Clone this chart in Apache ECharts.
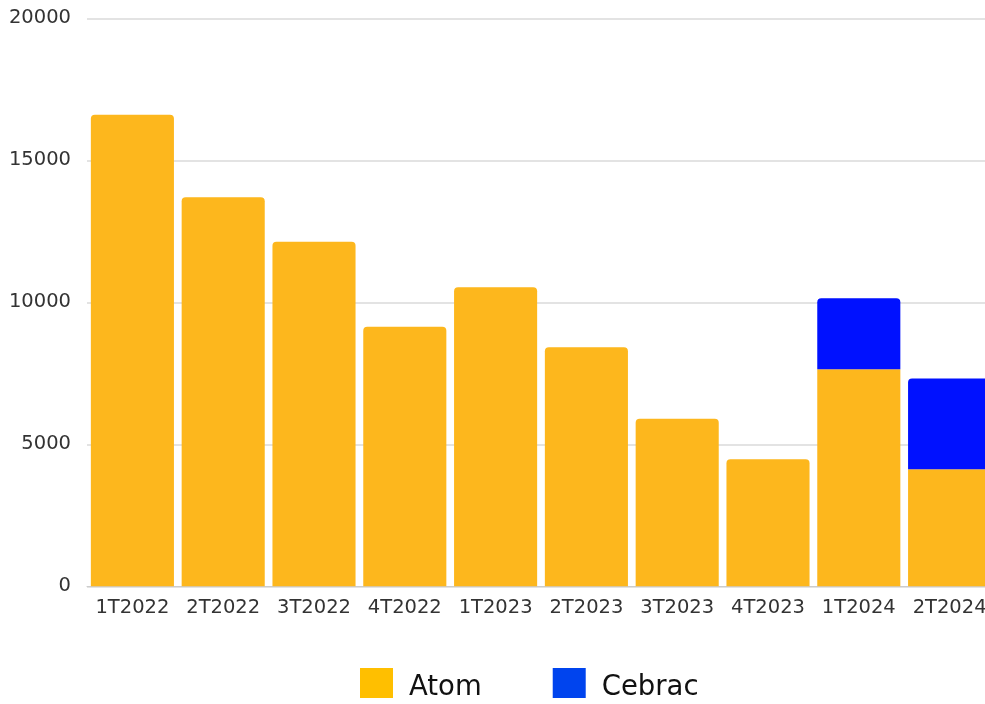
<!DOCTYPE html>
<html><head><meta charset="utf-8">
<script src="https://cdn.jsdelivr.net/npm/echarts@6/dist/echarts.min.js"></script>
<style>html,body{margin:0;padding:0;overflow:hidden;background:#fff;width:985px;height:704px}#c{width:1060px;height:720px}</style>
</head><body><div id="c"></div>
<script>
const categories = ['1T2022','2T2022','3T2022','4T2022','1T2023','2T2023','3T2023','4T2023','1T2024','2T2024'];
const atom = [16600, 13700, 12130, 9140, 10530, 8420, 5900, 4470, 7640, 4120];
const cebrac = [null, null, null, null, null, null, null, null, 2500, 3200];
const yTicks = [0, 5000, 10000, 15000, 20000];

const chart = echarts.init(document.getElementById('c'), null, {renderer:'canvas'});
const atomData = atom.map((v,i)=>({value:v, itemStyle:{borderRadius: cebrac[i]==null ? [4,4,0,0] : 0}}));
chart.setOption({
  animation:false,
  grid:{left:87, top:18.3, width:908, height:568, containLabel:false},
  legend:{
    left:360, top:664, padding:0, itemWidth:33, itemHeight:30, itemGap:71,
    icon:'rect',
    textStyle:{fontFamily:'DejaVu Sans', fontSize:27.5, lineHeight:30, color:'#111', padding:[0,0,0,11],
      rich:{a:{fontFamily:'DejaVu Sans', fontSize:27.5, lineHeight:30, padding:[10,0,0,0], color:'#111'}}},
    formatter:name=>'{a|'+name+'}',
    data:[{name:'Atom', itemStyle:{color:'#FFBF00'}},{name:'Cebrac', itemStyle:{color:'#0044EE'}}]
  },
  xAxis:{type:'category', data:categories,
    axisLine:{lineStyle:{color:'#cccccc', width:1}}, axisTick:{show:false},
    axisLabel:{fontFamily:'DejaVu Sans', fontSize:19.5, color:'#333', margin:12, interval:0}},
  yAxis:{type:'value', min:yTicks[0], max:yTicks[yTicks.length-1], interval:5000,
    axisLine:{show:false}, axisTick:{show:false},
    splitLine:{lineStyle:{color:'#e3e3e3', width:2}},
    axisLabel:{fontFamily:'DejaVu Sans', fontSize:19.5, color:'#333', margin:16, formatter:v=>String(v)}},
  series:[
    {name:'Atom', type:'bar', stack:'t', data:atomData, barCategoryGap:'8.5%', itemStyle:{color:'#FDB71D'}},
    {name:'Cebrac', type:'bar', stack:'t', data:cebrac, itemStyle:{color:'#0011FF', borderRadius:[4,4,0,0]}}
  ]
});
</script></body></html>
